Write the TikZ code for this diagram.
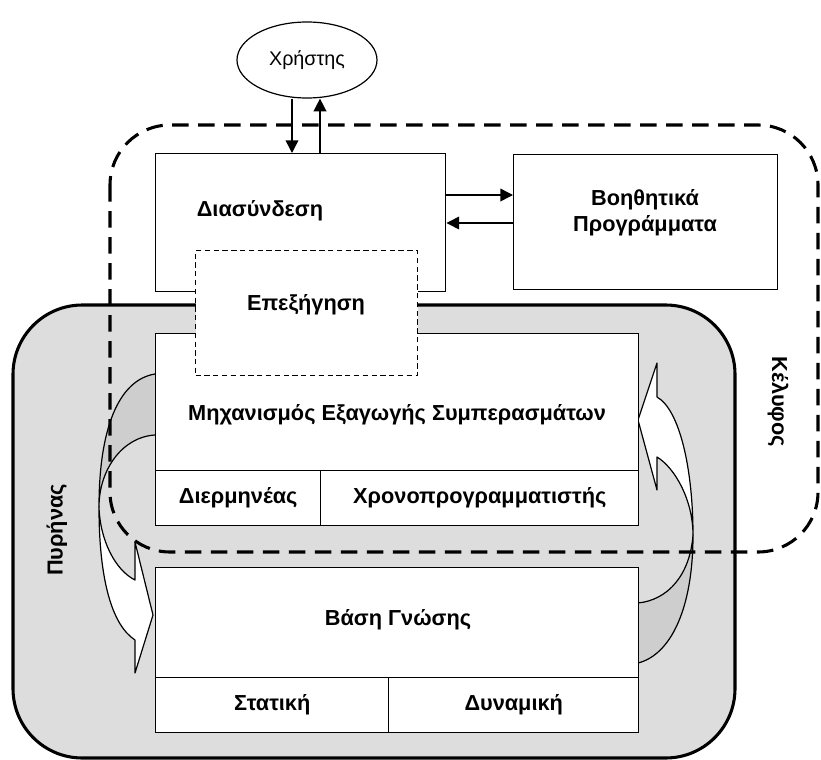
\documentclass[tikz,border=0pt]{standalone}
\usepackage{fontspec}
\setmainfont{Liberation Sans}
\usetikzlibrary{arrows.meta,shapes.geometric,calc}
\definecolor{coregray}{RGB}{221,221,221}
\definecolor{backgray}{RGB}{206,206,206}
\newcommand\mkbox[6][]{\node[box,#1,minimum width={(#4-#2)*0.75pt},minimum height={(#5-#3)*0.75pt}] (#6) at (#2,#3) {};}
\begin{document}
\begin{tikzpicture}[x=0.75pt,y=-0.75pt,
  box/.style={draw,fill=white,line width=1.1pt,inner sep=0pt,anchor=north west},
  lbl/.style={font=\bfseries\fontsize{16.3}{19.5}\selectfont,align=center,inner sep=0pt},
  arr/.style={line width=1.1pt,-{Triangle[length=9.5pt,width=9.5pt]}},
  curv/.style={draw,line width=0.9pt,line join=round},
  shell/.style={line width=2.3pt,dash pattern=on 12.5pt off 7pt,rounded corners=45pt},
  core/.style={line width=2.3pt,fill=coregray,rounded corners=52pt}]
\useasboundingbox (0,0) rectangle (821,760);

% core (Πυρήνας)
\draw[core] (13,305) rectangle (735,758);

% left curved arrow
\filldraw[curv,fill=backgray] (155,374) .. controls (118,380) and (99,430) .. (99,507)
   .. controls (99,470) and (122,437) .. (155,435);
\filldraw[curv,fill=white] (99,507) .. controls (99,580) and (112,625) .. (135,640)
   -- (135,673) -- (153,615) -- (135,542) -- (135,580)
   .. controls (115,570) and (100,540) .. (99,507) -- cycle;

% right curved arrow
\filldraw[curv,fill=white] (657,363) -- (638,420) -- (657,490) -- (657,457)
   .. controls (675,468) and (693,500) .. (693,535)
   .. controls (693,470) and (680,410) .. (657,397) -- cycle;
\filldraw[curv,fill=backgray] (693,535) .. controls (693,610) and (670,655) .. (638,663)
   -- (638,603) .. controls (668,600) and (690,575) .. (693,535) -- cycle;

% shell (Κέλυφος)
\draw[shell] (110,125) rectangle (818,552);

% user
\node[draw,ellipse,line width=0.9pt,fill=white,minimum width=105pt,minimum height=57pt,inner sep=0pt,
  font=\fontsize{14.8}{17}\selectfont] (user) at (307,60) {Χρήστης};

% boxes
\mkbox{155}{153}{445}{291}{dis}
\mkbox{513}{154}{777}{289}{aux}
\node[lbl] (tdis) at (260,211) {Διασύνδεση};
\node[lbl] (taux) at (645,213) {Βοηθητικά\\Προγράμματα};

\mkbox{155}{333}{638}{470}{mech}
\mkbox{155}{470}{320}{525}{interp}
\mkbox{320}{470}{638}{525}{sched}
\node[lbl] (tmech) at (397,415) {Μηχανισμός Εξαγωγής Συμπερασμάτων};
\node[lbl] at (interp.center) (tinterp) {Διερμηνέας};
\node[lbl] at (sched.center) (tsched) {Χρονοπρογραμματιστής};

\mkbox{155}{567}{638}{677}{kb}
\mkbox{155}{677}{388}{732}{stat}
\mkbox{388}{677}{638}{732}{dyn}
\node[lbl] (tkb) at (398,620) {Βάση Γνώσης};
\node[lbl] at (stat.center) (tstat) {Στατική};
\node[lbl] at (dyn.center) (tdyn) {Δυναμική};

% explanation (dashed)
\mkbox[dash pattern=on 4pt off 2.6pt,line width=0.8pt]{195}{250}{417}{375}{expl}
\node[lbl] (texpl) at (306,305) {Επεξήγηση};

% connectors
\coordinate (u1) at ($(user.south)+(-15,0)$);
\coordinate (u2) at ($(user.south)+(13,0)$);
\draw[arr] (u1) -- (u1 |- dis.north);
\draw[arr] (u2 |- dis.north) -- (u2);
\coordinate (r1) at (480,195);
\coordinate (r2) at (480,223);
\draw[arr] (dis.east |- r1) -- (aux.west |- r1);
\draw[arr] (aux.west |- r2) -- (dis.east |- r2);

% region labels
\node[lbl,rotate=-90] (lshell) at (778,402) {Κέλυφος};
\node[lbl,rotate=90] (lcore) at (57,530) {Πυρήνας};
\end{tikzpicture}
\end{document}
